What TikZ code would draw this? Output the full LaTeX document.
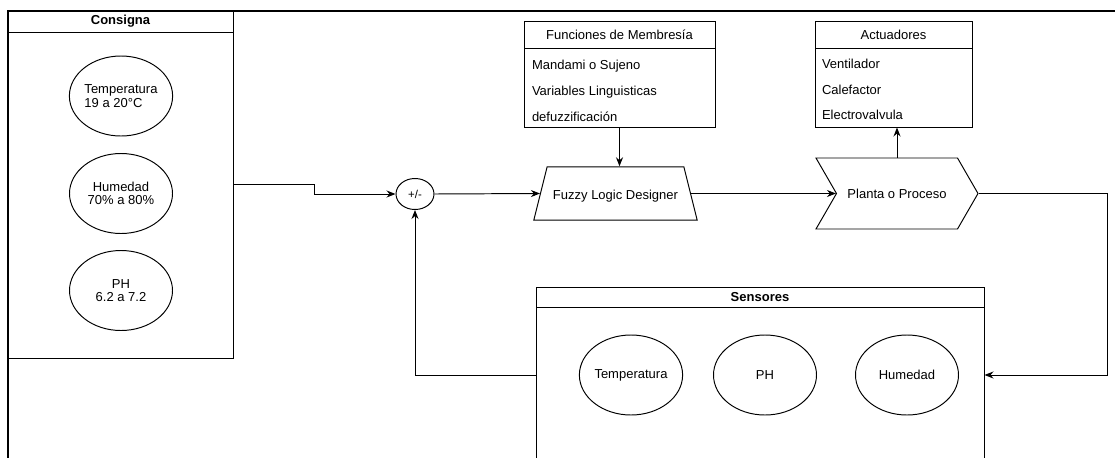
\documentclass[tikz,border=0pt]{standalone}
\usepackage{fontspec}
\setmainfont{Liberation Sans}
\usetikzlibrary{arrows.meta,positioning,shapes.geometric,shapes.symbols}

\begin{document}
\begin{tikzpicture}[
  x=0.2mm, y=-0.2mm,
  font=\fontsize{7.4}{7.6}\selectfont,
  line width=0.55pt,
  frame/.style={line width=1.2pt},
  panel/.style={draw, rectangle, inner sep=0pt},
  hdr/.style={draw, rectangle, inner sep=0pt, anchor=north},
  ell/.style={draw, ellipse, minimum width=20.6mm, minimum height=16mm,
    inner sep=0pt, align=center},
  item/.style={anchor=north west, inner sep=0pt, minimum height=5mm,
    text height=1.7ex, text depth=.5ex},
  arr/.style={-{Stealth[length=1.8mm,width=1.4mm]}}
]
\path[use as bounding box] (0,0) rectangle (1115,458);
\clip (0,0) rectangle (1115,458);
\draw[frame] (8,458) -- (8,11) -- (1115,11);

\node[panel, minimum width=45mm, minimum height=69.4mm] (consigna) at (120.5,184.5) {};
\node[hdr, minimum width=45mm, minimum height=4.2mm] (consignaT) at (consigna.north) {\bfseries Consigna};
\node[ell, align=left] (cTemp) at (121,96) {Temperatura\\19 a 20°C};
\node[ell] (cHum) at (121,193.5) {Humedad\\70\% a 80\%};
\node[ell] (cPh) at (121,290.5) {PH\\6.2 a 7.2};

\node[draw, ellipse, minimum width=7.6mm, minimum height=6.2mm, inner sep=0pt,
  font=\fontsize{6.5}{7}\selectfont] (sum) at (415,194) {+/-};

\node[panel, minimum width=38.2mm, minimum height=21.2mm] (funciones) at (619.5,74) {};
\node[hdr, minimum width=38.2mm, minimum height=5.4mm] (funcionesT) at (funciones.north) {Funciones de Membresía};
\node[item] (fm1) at ([xshift=1.6mm,yshift=-0.5mm]funcionesT.south west) {Mandami o Sujeno};
\node[item] (fm2) at (fm1.south west) {Variables Linguisticas};
\node[item] (fm3) at (fm2.south west) {defuzzificación};

\node[draw, trapezium, trapezium left angle=76, trapezium right angle=76,
  trapezium stretches body=true, minimum width=31.8mm, inner ysep=3.3mm,
  text height=1.7ex, text depth=.5ex] (fuzzy) at (615.5,193.5) {Fuzzy Logic Designer};

\node[panel, minimum width=31.4mm, minimum height=21.2mm] (actuadores) at (893.5,74) {};
\node[hdr, minimum width=31.4mm, minimum height=5.4mm] (actuadoresT) at (actuadores.north) {Actuadores};
\node[item] (ac1) at ([xshift=1.4mm,yshift=-0.2mm]actuadoresT.south west) {Ventilador};
\node[item] (ac2) at (ac1.south west) {Calefactor};
\node[item] (ac3) at (ac2.south west) {Electrovalvula};

\node[draw, signal, signal from=west, signal to=east, signal pointer angle=120,
  minimum width=32.4mm, minimum height=14.2mm] (planta) at (897,193.5) {Planta o Proceso};

\node[panel, minimum width=89.6mm, minimum height=35.2mm] (sensores) at (760,375) {};
\node[hdr, minimum width=89.6mm, minimum height=4mm] (sensoresT) at (sensores.north) {\bfseries Sensores};
\node[ell] (sTemp) at (631,375) {Temperatura};
\node[ell] (sPh) at (765,375) {PH};
\node[ell] (sHum) at (907,375) {Humedad};

\coordinate (turn) at (1107,193.5);

\draw[arr] (consigna.east) -- ++(81,0) |- (sum.west);
\draw[arr] (sum.east) -- (fuzzy.west);
\draw[arr] (funciones.south) -- (funciones.south |- fuzzy.north);
\draw[arr] (fuzzy.east) -- (planta.west);
\draw[arr] (planta.north) -- (planta.north |- actuadores.south);
\draw[arr] (planta.east) -- (turn) |- (sensores.east);
\draw[arr] (sensores.west) -| (sum.south);
\end{tikzpicture}
\end{document}
